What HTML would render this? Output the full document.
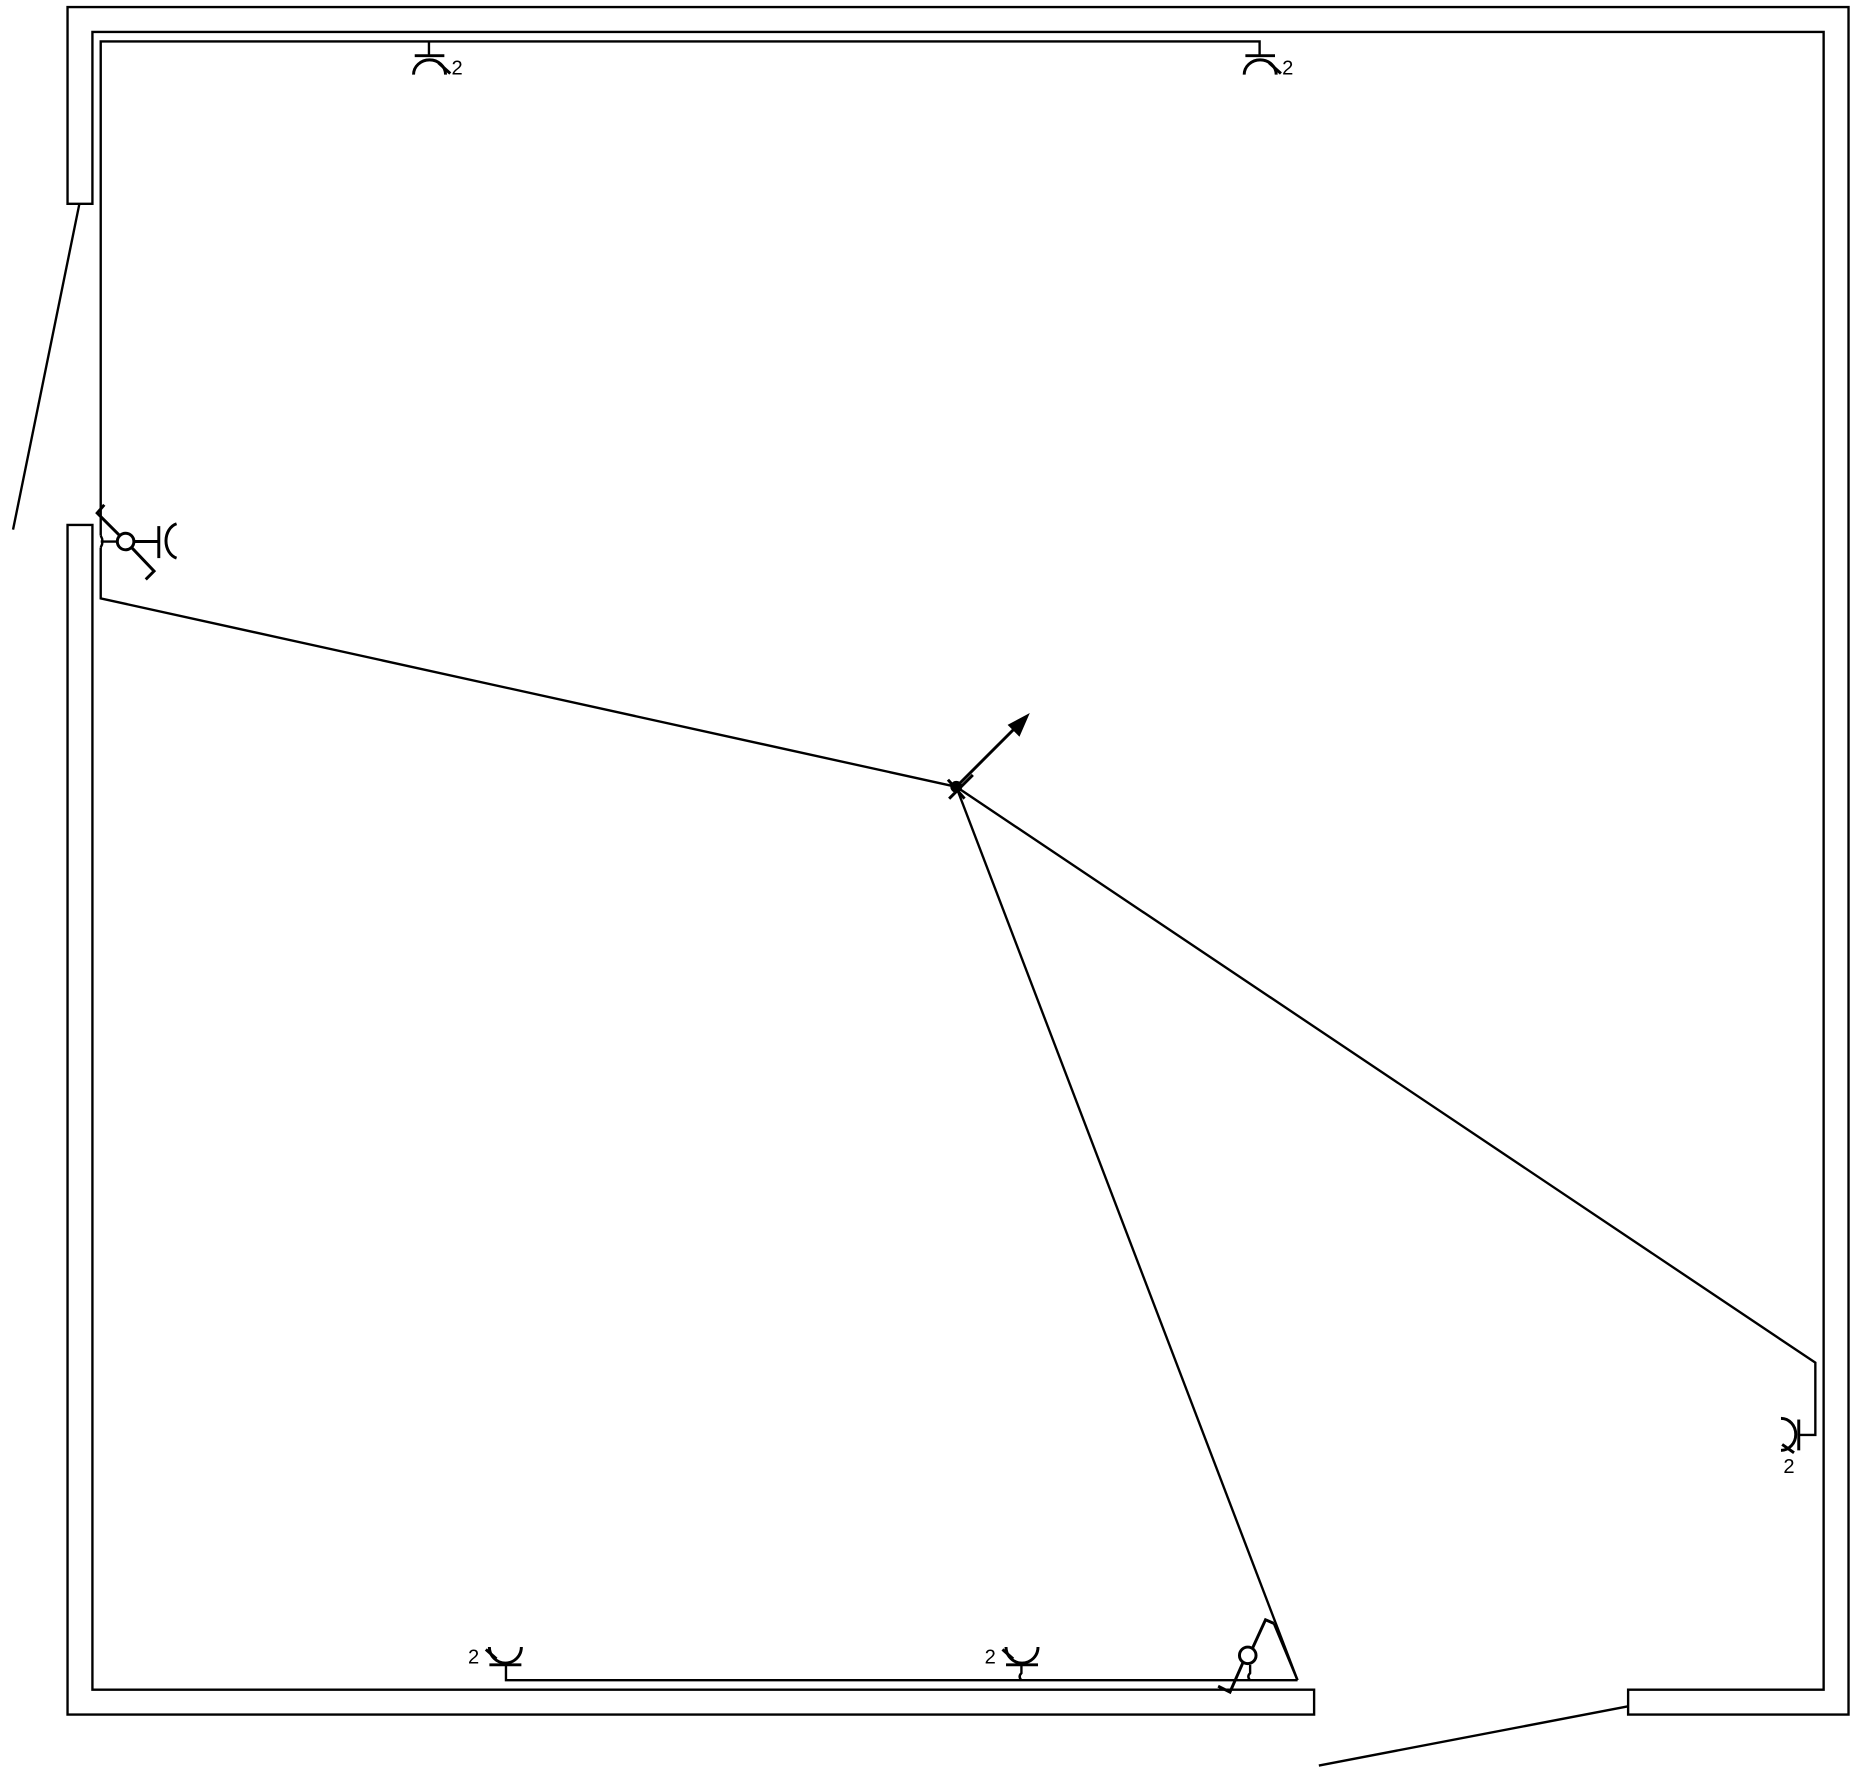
<!DOCTYPE html>
<html><head><meta charset="utf-8"><style>
html,body{margin:0;padding:0;background:#fff;}
svg{display:block;}
</style></head><body>
<svg width="1858" height="1771" viewBox="0 0 1568 1494.6" preserveAspectRatio="none" xmlns="http://www.w3.org/2000/svg">
<g fill="none" stroke="#000" stroke-width="2">
<!-- walls -->
<path d="M57,6 H1560 V1447 H1374 V1426 H1539 V27 H78 V172 H57 Z"/>
<path d="M57,443 H78 V1426 H1109 V1447 H57 Z"/>
<!-- doors -->
<line x1="67" y1="172" x2="11" y2="447"/>
<line x1="1374" y1="1440" x2="1113" y2="1490"/>
<!-- top wire -->
<path d="M85,452 V35 H1063 V47"/>
<path d="M85,462 V505 L807,664"/>
<path d="M85,452 q3,5 0,10" />
<line x1="85" y1="457" x2="99" y2="457"/>
<line x1="362" y1="35" x2="362" y2="47"/>
<!-- top sockets -->
<g stroke-width="2.5">
<line x1="350" y1="47" x2="375" y2="47"/>
<path d="M349,63 A13,12 0 0 1 376,63"/>
<line x1="370" y1="53" x2="380" y2="62"/>
<line x1="1051" y1="47" x2="1076" y2="47"/>
<path d="M1050,63 A13,12 0 0 1 1077,63"/>
<line x1="1071" y1="53" x2="1081" y2="62"/>
</g>
<!-- left switch -->
<g stroke-width="2.5">
<circle cx="106" cy="457" r="7" fill="#fff"/>
<line x1="113" y1="457" x2="134" y2="457"/>
<line x1="134" y1="444" x2="134" y2="471"/>
<path d="M149,442 A12,15 0 0 0 149,471"/>
<path d="M101,452 L82,433 L88,426"/>
<path d="M111,462 L130,482 L123,489"/>
</g>
<!-- center -->
<line x1="807" y1="664" x2="1095" y2="1418"/>
<path d="M807,664 L1532,1150 V1211 H1518"/>
<circle cx="807" cy="664" r="4" fill="#000"/>
<g stroke-width="2.5">
<line x1="801" y1="674" x2="821" y2="654"/>
<line x1="800" y1="658" x2="814" y2="674"/>
<line x1="807" y1="664" x2="858" y2="613"/>
</g>
<polygon points="867,604 852,612 860,620" fill="#000"/>
<!-- right socket -->
<g stroke-width="2.5">
<line x1="1518" y1="1198" x2="1518" y2="1224"/>
<path d="M1503,1197 A12,13 0 0 1 1503,1224"/>
<line x1="1504" y1="1219" x2="1514" y2="1226"/>
</g>
<!-- bottom wire -->
<path d="M427,1405 V1418 H1095"/>
<path d="M862,1405 V1412 q-3,3 0,6"/>
<path d="M1055,1405 V1412 q-3,3 0,6"/>
<g stroke-width="2.5">
<line x1="413" y1="1405" x2="440" y2="1405"/>
<path d="M413,1390 A13,13 0 0 0 440,1390"/>
<line x1="410" y1="1392" x2="419" y2="1400"/>
<line x1="849" y1="1405" x2="876" y2="1405"/>
<path d="M849,1390 A13,13 0 0 0 876,1390"/>
<line x1="846" y1="1392" x2="855" y2="1400"/>
<circle cx="1053" cy="1397" r="7" fill="#fff"/>
<path d="M1057,1391 L1068,1367 L1075,1370"/>
<path d="M1049,1403 L1038,1428 L1028,1423"/>
</g>
<path d="M1095,1418 L1075,1370"/>
</g>
<g font-family="'Liberation Sans', sans-serif" font-size="17" fill="#000">
<text x="381" y="63">2</text>
<text x="1082" y="63">2</text>
<text x="1505" y="1243">2</text>
<text x="395" y="1404">2</text>
<text x="831" y="1404">2</text>
</g>
</svg>
</body></html>
